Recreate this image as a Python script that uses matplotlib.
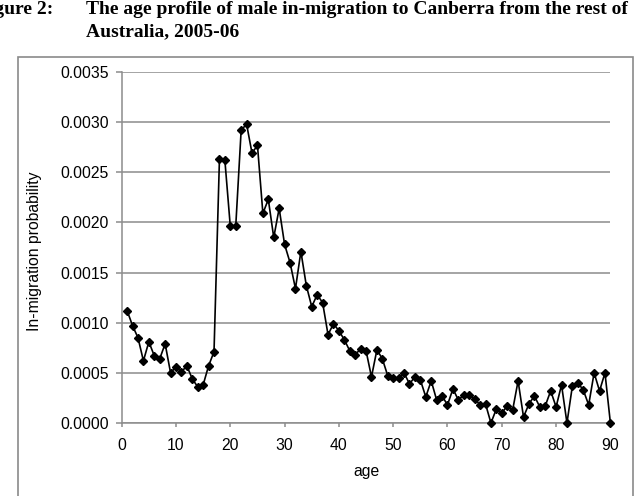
import matplotlib
matplotlib.use("Agg")
import matplotlib.pyplot as plt
from matplotlib.patches import Rectangle

ages = list(range(1, 91))
probability = [
    0.00112, 0.00097, 0.00085, 0.00062, 0.00081, 0.00067, 0.00064, 0.00079, 0.00050, 0.00056,
    0.00051, 0.00057, 0.00044, 0.00036, 0.00038, 0.00057, 0.00071, 0.00263, 0.00262, 0.00196,
    0.00196, 0.00292, 0.00298, 0.00269, 0.00277, 0.00209, 0.00223, 0.00185, 0.00214, 0.00178,
    0.00160, 0.00134, 0.00171, 0.00137, 0.00116, 0.00128, 0.00120, 0.00088, 0.00099, 0.00092,
    0.00083, 0.00072, 0.00068, 0.00074, 0.00072, 0.00046, 0.00073, 0.00064, 0.00047, 0.00045,
    0.00045, 0.00050, 0.00039, 0.00046, 0.00043, 0.00026, 0.00042, 0.00023, 0.00027, 0.00018,
    0.00034, 0.00023, 0.00028, 0.00028, 0.00024, 0.00018, 0.00019, 0.00000, 0.00014, 0.00010,
    0.00017, 0.00013, 0.00042, 0.00006, 0.00019, 0.00027, 0.00016, 0.00017, 0.00032, 0.00016,
    0.00038, 0.00000, 0.00037, 0.00040, 0.00033, 0.00018, 0.00050, 0.00032, 0.00050, 0.00000,
]
x_ticks = [0, 10, 20, 30, 40, 50, 60, 70, 80, 90]
y_ticks = [0.0, 0.0005, 0.0010, 0.0015, 0.0020, 0.0025, 0.0030, 0.0035]
y_tick_labels = ["0.0000", "0.0005", "0.0010", "0.0015", "0.0020", "0.0025", "0.0030", "0.0035"]
title_line1 = "The age profile of male in-migration to Canberra from the rest of"
title_line2 = "Australia, 2005-06"
fig_label = "Figure 2:"

W, H = 640, 496
fig = plt.figure(figsize=(6.4, 4.96), dpi=100)

# outer chart frame
fig.patches.append(Rectangle((17.7 / W, -0.02), (632.7 - 17.7) / W, (1 - 56.7 / H) + 0.02,
                             transform=fig.transFigure, fill=False, edgecolor="#8a8a8a",
                             linewidth=1.2, zorder=0))

serif = ["Liberation Serif", "DejaVu Serif"]
fig.text(53 / W, 1 - 13.5 / H, fig_label, ha="right", va="baseline", fontsize=14,
         fontweight="bold", family=serif)
fig.text(86 / W, 1 - 13.5 / H, title_line1, ha="left", va="baseline", fontsize=14,
         fontweight="bold", family=serif)
fig.text(86 / W, 1 - 36 / H, title_line2, ha="left", va="baseline", fontsize=14,
         fontweight="bold", family=serif)

ax = fig.add_axes([121.7 / W, 1 - 423 / H, (610.4 - 121.7) / W, (423 - 72) / H])
gray = "#8c8c8c"
ax.set_xlim(0, 90)
ax.set_ylim(0, 0.0035)
ax.set_xticks(x_ticks)
ax.set_yticks(y_ticks)
ax.set_yticklabels(y_tick_labels)
ax.grid(axis="y", color=gray, linewidth=1.1)
ax.set_axisbelow(True)
for s in ["top", "right"]:
    ax.spines[s].set_visible(False)
for s in ["left", "bottom"]:
    ax.spines[s].set_color(gray)
    ax.spines[s].set_linewidth(1.1)
sans = ["Liberation Sans", "DejaVu Sans"]
ax.tick_params(axis="both", colors=gray, labelcolor="black", labelsize=11.3, width=1.1)
ax.tick_params(axis="y", length=4, pad=5.5, direction="out")
ax.tick_params(axis="x", length=3, pad=8, direction="out")
for lab in ax.get_xticklabels() + ax.get_yticklabels():
    lab.set_family(sans)

ax.plot(ages, probability, color="black", linewidth=1.2, marker="D", markersize=3.6,
        clip_on=False, zorder=3)

ax.set_xlabel("age", fontsize=11.3, family=sans, labelpad=8)
ax.set_ylabel("In-migration probability", fontsize=11.3, family=sans)
ax.yaxis.set_label_coords((42 - 121.7) / (610.4 - 121.7), 0.49)

fig.savefig("out.png", dpi=100)
